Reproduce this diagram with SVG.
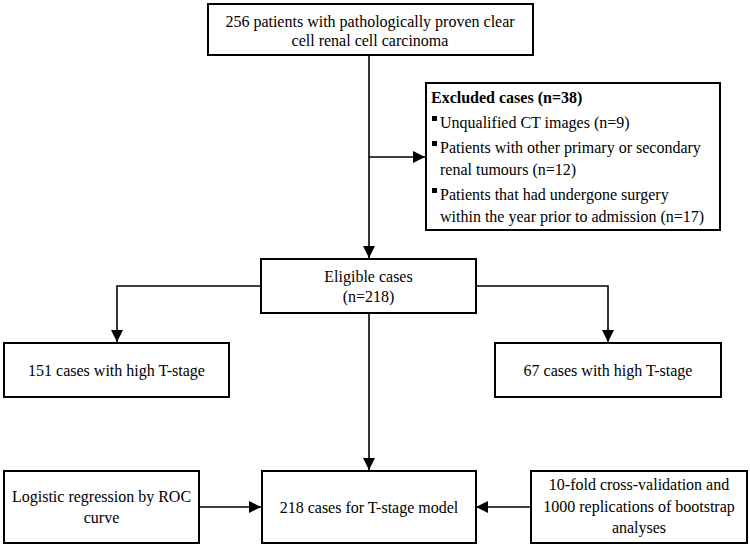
<svg xmlns="http://www.w3.org/2000/svg" width="750" height="546" viewBox="0 0 750 546">
<style>
.box{fill:#fff;stroke:#000;stroke-width:2}
.t{font-family:"Liberation Serif","Times New Roman",serif;font-size:16px;fill:#000}
.c{text-anchor:middle}
.b{font-weight:bold}
.ln{fill:none;stroke:#000;stroke-width:1.6}
</style>
<defs>
<marker id="ah" markerUnits="userSpaceOnUse" markerWidth="12" markerHeight="12" viewBox="0 0 12 12" refX="12" refY="6" orient="auto">
<path d="M0,0 L12,6 L0,12 Z" fill="#000"/>
</marker>
</defs>
<rect width="750" height="546" fill="#fff"/>
<g id="connectors">
<line class="ln" x1="369" y1="56" x2="369" y2="258" marker-end="url(#ah)"/>
<line class="ln" x1="369" y1="157" x2="425" y2="157" marker-end="url(#ah)"/>
<polyline class="ln" points="261,286 117,286 117,342" marker-end="url(#ah)"/>
<polyline class="ln" points="476,286 608,286 608,342" marker-end="url(#ah)"/>
<line class="ln" x1="369" y1="313" x2="369" y2="470" marker-end="url(#ah)"/>
<line class="ln" x1="199" y1="507" x2="261" y2="507" marker-end="url(#ah)"/>
<line class="ln" x1="531" y1="507" x2="476" y2="507" marker-end="url(#ah)"/>
</g>
<g id="n-patients">
<rect class="box" x="208" y="4" width="325" height="51"/>
<text class="t c" x="370" y="27">256 patients with pathologically proven clear</text>
<text class="t c" x="370" y="46">cell renal cell carcinoma</text>
</g>
<g id="n-excluded">
<rect class="box" x="426" y="83" width="294" height="147"/>
<text class="t b" x="431" y="103">Excluded cases (n=38)</text>
<rect x="432" y="116" width="5" height="5"/>
<text class="t" x="440" y="128">Unqualified CT images (n=9)</text>
<rect x="432" y="141" width="5" height="5"/>
<text class="t" x="440" y="153">Patients with other primary or secondary</text>
<text class="t" x="440" y="175">renal tumours (n=12)</text>
<rect x="432" y="188" width="5" height="5"/>
<text class="t" x="440" y="200">Patients that had undergone surgery</text>
<text class="t" x="440" y="222">within the year prior to admission (n=17)</text>
</g>
<g id="n-eligible">
<rect class="box" x="261" y="259" width="215" height="54"/>
<text class="t c" x="368.5" y="282">Eligible cases</text>
<text class="t c" x="368.5" y="302">(n=218)</text>
</g>
<g id="n-high151">
<rect class="box" x="4" y="343" width="225" height="54"/>
<text class="t c" x="116.5" y="376">151 cases with high T-stage</text>
</g>
<g id="n-high67">
<rect class="box" x="495" y="343" width="226" height="54"/>
<text class="t c" x="608" y="376">67 cases with high T-stage</text>
</g>
<g id="n-logistic">
<rect class="box" x="4" y="471" width="195" height="72"/>
<text class="t c" x="101.5" y="502">Logistic regression by ROC</text>
<text class="t c" x="101.5" y="523">curve</text>
</g>
<g id="n-model">
<rect class="box" x="262" y="471" width="214" height="72"/>
<text class="t c" x="369" y="513">218 cases for T-stage model</text>
</g>
<g id="n-validation">
<rect class="box" x="531" y="471" width="216" height="72"/>
<text class="t c" x="639" y="490">10-fold cross-validation and</text>
<text class="t c" x="639" y="512">1000 replications of bootstrap</text>
<text class="t c" x="639" y="533">analyses</text>
</g>
</svg>
